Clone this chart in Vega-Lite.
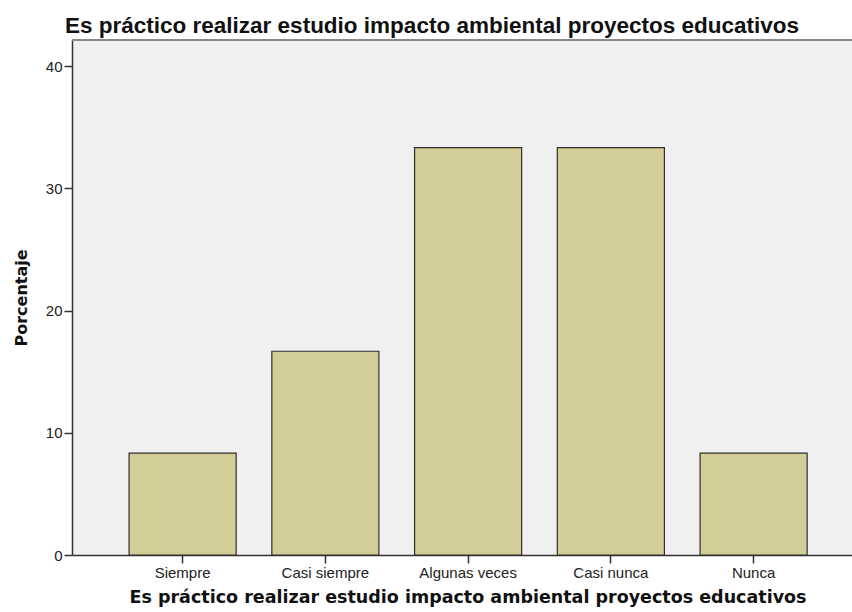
{
  "$schema": "https://vega.github.io/schema/vega-lite/v6.json",
  "autosize": {"type": "none"},
  "padding": {"left": 72, "top": 40, "right": 0, "bottom": 57},
  "width": 780,
  "height": 515,
  "background": "#ffffff",
  "config": {
    "view": {"fill": "#f0f0f0", "stroke": null},
    "axis": {"grid": false}
  },
  "title": {
    "text": "Es práctico realizar estudio impacto ambiental proyectos educativos",
    "font": "Liberation Sans",
    "fontSize": 22.5,
    "fontWeight": "bold",
    "color": "#111111",
    "anchor": "start",
    "frame": "group",
    "dx": -7,
    "dy": 24,
    "offset": 8,
    "baseline": "alphabetic"
  },
  "layer": [
    {
      "data": {
        "values": [
          {"categoria": "Siempre", "porcentaje": 8.33},
          {"categoria": "Casi siempre", "porcentaje": 16.67},
          {"categoria": "Algunas veces", "porcentaje": 33.33},
          {"categoria": "Casi nunca", "porcentaje": 33.33},
          {"categoria": "Nunca", "porcentaje": 8.33}
        ]
      },
      "mark": {"type": "bar", "fill": "#d3ce97", "stroke": "#2e2e2e", "strokeWidth": 1.2},
      "encoding": {
        "x": {
          "field": "categoria",
          "type": "nominal",
          "sort": null,
          "scale": {"paddingInner": 0.25, "paddingOuter": 0.357, "align": 0.56},
          "axis": {
            "title": "Es práctico realizar estudio impacto ambiental proyectos educativos",
            "labelAngle": 0,
            "labelFont": "Liberation Sans",
            "labelFontSize": 15,
            "labelColor": "#222222",
            "labelPadding": 2,
            "tickSize": 8,
            "tickColor": "#333333",
            "tickWidth": 1.5,
            "domainColor": "#333333",
            "domainWidth": 1.5,
            "titleFont": "DejaVu Sans",
            "titleFontSize": 17.5,
            "titleFontWeight": "bold",
            "titleColor": "#111111",
            "titleX": 395.5,
            "titleY": 47,
            "titleBaseline": "alphabetic",
            "titleAlign": "center"
          }
        },
        "y": {
          "field": "porcentaje",
          "type": "quantitative",
          "scale": {"domain": [0, 42.14], "nice": false, "zero": true},
          "axis": {
            "title": "Porcentaje",
            "values": [0, 10, 20, 30, 40],
            "labelFont": "Liberation Sans",
            "labelFontSize": 15,
            "labelColor": "#222222",
            "labelPadding": 2,
            "tickSize": 8,
            "tickColor": "#333333",
            "tickWidth": 1.5,
            "domainColor": "#333333",
            "domainWidth": 1.5,
            "titleFont": "DejaVu Sans",
            "titleFontSize": 16,
            "titleFontWeight": "bold",
            "titleColor": "#111111",
            "titleX": -51,
            "titleY": 257.5,
            "titleAngle": 270,
            "titleAlign": "center",
            "titleBaseline": "middle"
          }
        }
      }
    },
    {
      "data": {"values": [{"borde": 42.14}]},
      "mark": {"type": "rule", "stroke": "#8a8a8a", "strokeWidth": 2},
      "encoding": {
        "y": {"field": "borde", "type": "quantitative"}
      }
    }
  ]
}
